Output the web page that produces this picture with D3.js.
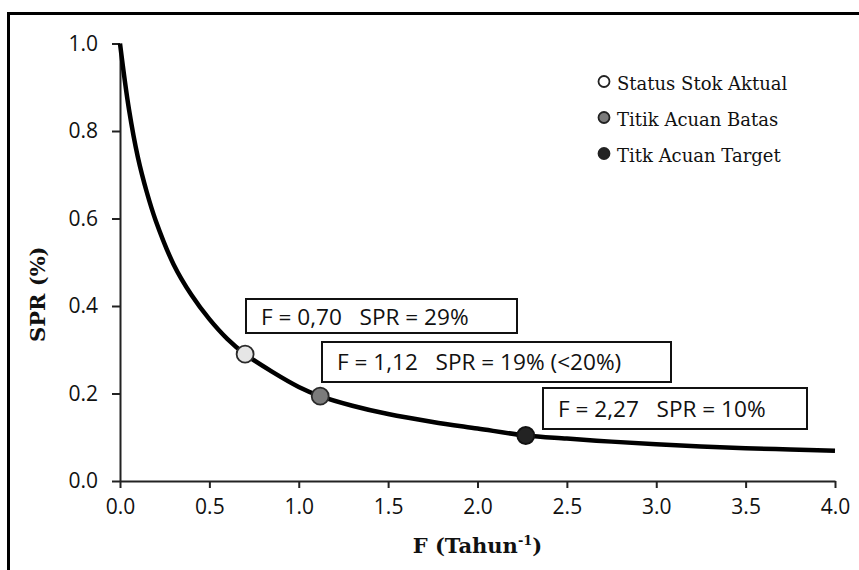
<!DOCTYPE html>
<html>
<head>
<meta charset="utf-8">
<script src="https://cdn.jsdelivr.net/npm/d3@7"></script>
<style>
  html, body { margin: 0; padding: 0; background: #fff; }
  svg { display: block; }
  text { white-space: pre; }
</style>
</head>
<body>
<svg id="chart" width="859" height="570"></svg>
<script>
// ---- data ----
const fValues   = [0, 0.05, 0.1, 0.15, 0.2, 0.3, 0.4, 0.5, 0.6, 0.7, 0.85, 1.0, 1.12, 1.3, 1.5, 1.75, 2.0, 2.27, 2.5, 2.75, 3.0, 3.25, 3.5, 3.75, 4.0];
const sprValues = [1.0, 0.85, 0.74, 0.66, 0.595, 0.495, 0.425, 0.37, 0.325, 0.29, 0.25, 0.215, 0.194, 0.172, 0.153, 0.135, 0.12, 0.104, 0.097, 0.09, 0.084, 0.079, 0.075, 0.072, 0.069];

const pointNames = ["Status Stok Aktual", "Titik Acuan Batas", "Titk Acuan Target"];
const pointF     = [0.70, 1.12, 2.27];
const pointSPR   = [0.29, 0.194, 0.104];
const pointLabels = ["F = 0,70   SPR = 29%", "F = 1,12   SPR = 19% (<20%)", "F = 2,27   SPR = 10%"];

const xTicks = [0, 0.5, 1.0, 1.5, 2.0, 2.5, 3.0, 3.5, 4.0];
const yTicks = [0, 0.2, 0.4, 0.6, 0.8, 1.0];

// ---- styles / layout ----
const pointFill   = ["#e6e6e6", "#7b7b7b", "#232323"];
const pointStroke = ["#2a2a2a", "#2a2a2a", "#111111"];
// annotation boxes (pixel layout)
const boxLayout = [
  {x: 246, y: 299, w: 271, h: 34, tx: 261, ty: 325},
  {x: 322, y: 342, w: 349, h: 40, tx: 337, ty: 370},
  {x: 543, y: 388, w: 264, h: 41, tx: 558, ty: 417}
];

const svg = d3.select("#chart");

// outer frame of scanned figure
svg.append("line").attr("x1", 7).attr("x2", 859).attr("y1", 13.5).attr("y2", 13.5)
  .attr("stroke", "#000").attr("stroke-width", 3);
svg.append("line").attr("x1", 8.5).attr("x2", 8.5).attr("y1", 12).attr("y2", 570)
  .attr("stroke", "#000").attr("stroke-width", 3);

const x = d3.scaleLinear().domain([0, 4]).range([120, 835]);
const y = d3.scaleLinear().domain([0, 1]).range([481, 43.5]);

// axes
const xAxis = d3.axisBottom(x).tickValues(xTicks).tickFormat(d3.format(".1f")).tickSize(7).tickSizeOuter(0).tickPadding(6);
const yAxis = d3.axisLeft(y).tickValues(yTicks).tickFormat(d3.format(".1f")).tickSize(8).tickSizeOuter(0).tickPadding(14);

const gx = svg.append("g").attr("transform", `translate(0,${y(0)})`).call(xAxis);
const gy = svg.append("g").attr("transform", `translate(${x(0)},0)`).call(yAxis);

[gx, gy].forEach(g => {
  g.select(".domain").attr("stroke", "#222").attr("stroke-width", 2);
  g.selectAll(".tick line").attr("stroke", "#222").attr("stroke-width", 2);
  g.selectAll(".tick text")
    .attr("font-family", "'Open Sans', sans-serif")
    .attr("font-size", 21)
    .attr("fill", "#111");
});
gx.selectAll(".tick text").attr("dy", "0.95em");

// axis titles
svg.append("text")
  .attr("x", x(2)).attr("y", 553)
  .attr("text-anchor", "middle")
  .attr("font-family", "'DejaVu Serif', serif")
  .attr("font-weight", "bold")
  .attr("font-size", 21)
  .attr("fill", "#111")
  .call(t => {
    t.append("tspan").text("F (Tahun");
    t.append("tspan").attr("font-size", 13).attr("dy", -8).text("-1");
    t.append("tspan").attr("dy", 8).text(")");
  });

svg.append("text")
  .attr("transform", `translate(45,${(y(0) + y(1)) / 2 + 32}) rotate(-90)`)
  .attr("text-anchor", "middle")
  .attr("font-family", "'DejaVu Serif', serif")
  .attr("font-weight", "bold")
  .attr("font-size", 21)
  .attr("fill", "#111")
  .text("SPR (%)");

// curve
const curveData = fValues.map((f, i) => ({f, s: sprValues[i]}));
const line = d3.line().x(d => x(d.f)).y(d => y(d.s)).curve(d3.curveCatmullRom.alpha(0.5));
svg.append("path")
  .datum(curveData)
  .attr("d", line)
  .attr("fill", "none")
  .attr("stroke", "#000")
  .attr("stroke-width", 4.5)
  .attr("stroke-linejoin", "round");

// annotation boxes
boxLayout.forEach((b, i) => {
  svg.append("rect")
    .attr("x", b.x).attr("y", b.y).attr("width", b.w).attr("height", b.h)
    .attr("fill", "#fff").attr("stroke", "#111").attr("stroke-width", 2);
  svg.append("text")
    .attr("x", b.tx).attr("y", b.ty)
    .attr("font-family", "'Open Sans', sans-serif")
    .attr("font-size", 22.6)
    .attr("fill", "#111")
    .text(pointLabels[i]);
});

// points
pointF.forEach((f, i) => {
  svg.append("circle")
    .attr("cx", x(f)).attr("cy", y(pointSPR[i])).attr("r", 8.5)
    .attr("fill", pointFill[i]).attr("stroke", pointStroke[i]).attr("stroke-width", 1.8);
});

// legend
const legend = svg.append("g");
pointNames.forEach((name, i) => {
  const base = 90 + i * 36;
  legend.append("circle")
    .attr("cx", 604).attr("cy", base - 8.5).attr("r", 5.5)
    .attr("fill", i === 0 ? "#fff" : pointFill[i])
    .attr("stroke", "#222").attr("stroke-width", 1.8);
  legend.append("text")
    .attr("x", 617).attr("y", base)
    .attr("font-family", "'DejaVu Serif', serif")
    .attr("font-size", 18)
    .attr("fill", "#111")
    .text(name);
});
</script>
</body>
</html>
